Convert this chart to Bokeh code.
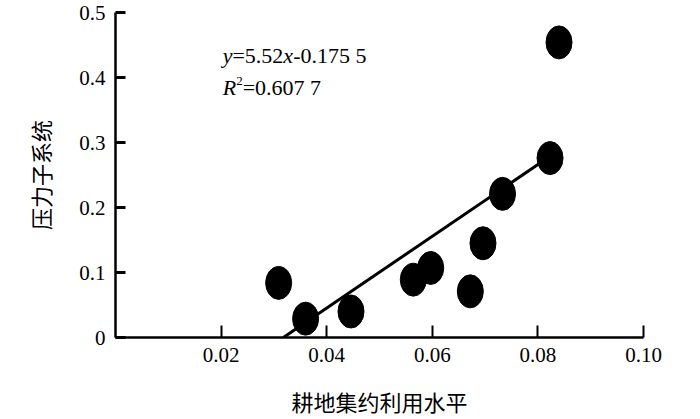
from bokeh.plotting import figure
from bokeh.models import Label, FixedTicker, CustomJSTickFormatter, Range1d, ColumnDataSource
from bokeh.embed import file_html
from bokeh.resources import INLINE

# ---- data ----
x_vals = [0.0309, 0.0360, 0.0446, 0.0564, 0.0597, 0.0672, 0.0696, 0.0733, 0.0823, 0.0840]
y_vals = [0.084, 0.029, 0.040, 0.089, 0.107, 0.071, 0.145, 0.221, 0.276, 0.454]
slope = 5.52
intercept = -0.1755
fit_x_end = 0.0823
x_ticks = [0.02, 0.04, 0.06, 0.08, 0.10]
y_ticks = [0, 0.1, 0.2, 0.3, 0.4, 0.5]
x_title = "耕地集约利用水平"
y_title = "压力子系统"
eq_line1 = [("y", "italic"), ("=5.52", "normal"), ("x", "italic"), ("-0.175 5", "normal")]
eq_line2 = [("R", "italic"), ("2", "sup"), ("=0.607 7", "normal")]
eq_pos = (0.0203, 0.434, 0.385)

SERIF = "Liberation Serif"
CJK = "Noto Sans CJK SC"

p = figure(width=700, height=419, x_range=Range1d(0, 0.1), y_range=Range1d(0, 0.5),
           output_backend="svg", toolbar_location=None,
           min_border_left=115, min_border_right=57, min_border_top=12, min_border_bottom=81)
p.outline_line_color = None
p.grid.visible = False
p.background_fill_color = "white"
p.border_fill_color = "white"

# regression line
fit_x0 = -intercept / slope
fit_src = ColumnDataSource(dict(x=[fit_x0, fit_x_end],
                                y=[slope * fit_x0 + intercept, slope * fit_x_end + intercept]))
p.line("x", "y", source=fit_src, line_color="black", line_width=3)

# points
pts = ColumnDataSource(dict(x=x_vals, y=y_vals))
p.ellipse("x", "y", source=pts, width=26, height=33, width_units="screen", height_units="screen",
          fill_color="black", line_color="black")

# axes
xa = p.xaxis[0]
xa.ticker = FixedTicker(ticks=x_ticks)
xa.formatter = CustomJSTickFormatter(code="return tick.toFixed(2);")
ya = p.yaxis[0]
ya.ticker = FixedTicker(ticks=y_ticks)
ya.formatter = CustomJSTickFormatter(code="return tick == 0 ? '0' : tick.toFixed(1);")
for ax, tin, tw in ((xa, 12, 2), (ya, 10, 3)):
    ax.major_tick_in = tin
    ax.major_tick_out = 0
    ax.major_tick_line_width = tw
    ax.minor_tick_line_color = None
    ax.axis_line_width = 2.5
    ax.axis_line_color = "black"
    ax.major_tick_line_color = "black"
    ax.major_label_text_font = SERIF
    ax.major_label_text_font_size = "21px"
    ax.major_label_text_color = "black"
    ax.major_label_standoff = 10
    ax.axis_label_text_font = CJK
    ax.axis_label_text_font_size = "22px"
    ax.axis_label_text_font_style = "normal"
    ax.axis_label_text_color = "black"
xa.axis_label = x_title
ya.axis_label = y_title
xa.axis_label_standoff = 20
ya.axis_label_standoff = 20

# equation text built from segments
adv = {"y": 0.444, "x": 0.444, "R": 0.611, "=": 0.564, "-": 0.333, ".": 0.25, " ": 0.25}
def width_of(s, size):
    return sum(adv.get(c, 0.5) for c in s) * size

FS = 22
def place(parts, yv):
    off = 0.0
    for txt, sty in parts:
        if sty == "sup":
            size, style, yoff = 13, "normal", 6
        else:
            size, style, yoff = FS, sty, 0
        p.add_layout(Label(x=eq_pos[0], y=yv, x_offset=off, y_offset=yoff, text=txt,
                           text_font=SERIF, text_font_size=f"{size}px", text_font_style=style,
                           text_color="black", text_baseline="middle", text_align="left"))
        off += width_of(txt, size)

place(eq_line1, eq_pos[1])
place(eq_line2, eq_pos[2])

open("out.html", "w").write(file_html(p, INLINE))
